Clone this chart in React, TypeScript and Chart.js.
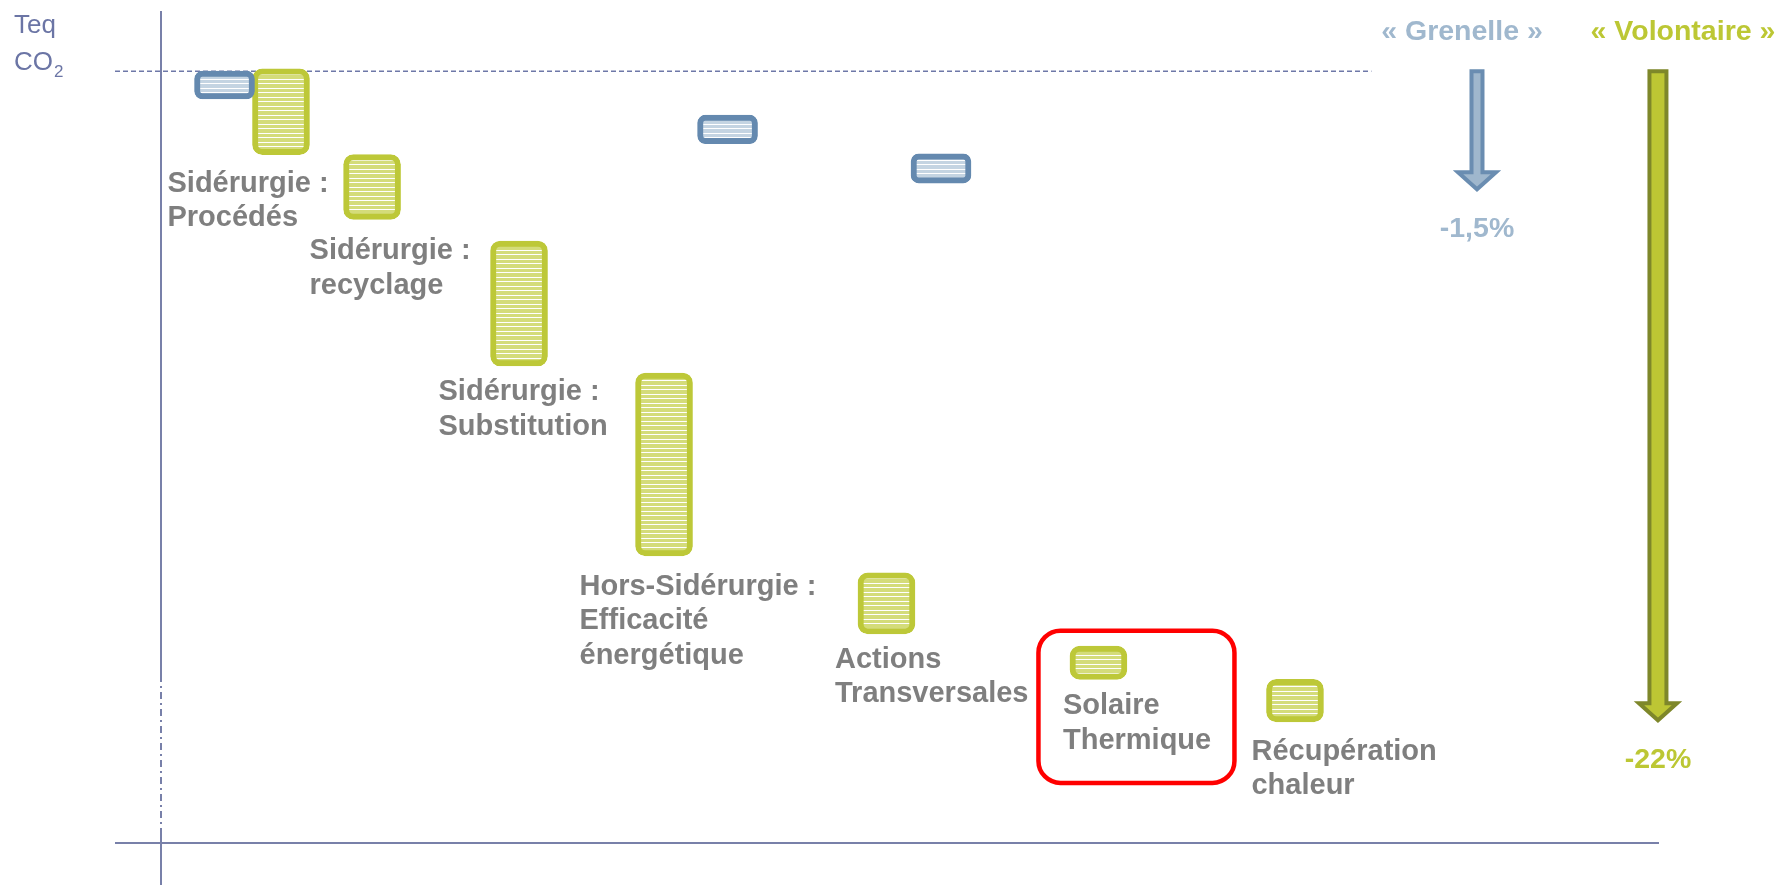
import { useEffect, useRef } from "react";
import { Chart, registerables } from "chart.js";

Chart.register(...registerables);

// ---------- data ----------
const actionLabels: string[][] = [
  ["Sidérurgie :", "Procédés"],
  ["Sidérurgie :", "recyclage"],
  ["Sidérurgie :", "Substitution"],
  ["Hors-Sidérurgie :", "Efficacité", "énergétique"],
  ["Actions", "Transversales"],
  ["Solaire", "Thermique"],
  ["Récupération", "chaleur"],
];
const volontaireX = [8.01, 14.09, 23.9, 33.58, 48.43, 62.58, 75.7];
const volontaireTop = [100.3, 89.2, 78.0, 60.9, 35.0, 25.5, 21.2];
const volontaireBottom = [89.2, 80.8, 61.8, 37.2, 27.1, 21.2, 15.7];

const grenelleX = [4.24, 37.82, 52.07];
const grenelleTop = [100, 94.3, 89.3];
const grenelleBottom = [96.4, 90.6, 85.5];

const baselineValue = 100;
const baselineEndX = 80.8;

const scenarioNames = ["« Grenelle »", "« Volontaire »"];
const scenarioPct = ["-1,5%", "-22%"];
const scenarioX = [87.85, 99.93];
const scenarioEnd = [84.7, 15.9];

const yTitle = ["Teq", "CO", "2"];
const highlightedIndex = 5; // "Solaire Thermique"

// ---------- layout / style (not data) ----------
const labelDx = [-85, -34, -52, -56, -23, -7, -15];
const labelDy = [37, 40, 34, 39, 34, 35, 38];
const FONT = '"Liberation Sans", Arial, Helvetica, sans-serif';
const AXIS_COLOR = "#7880a9";
const TITLE_COLOR = "#6b75a5";
const LABEL_COLOR = "#7f7f7f";
const GREEN_BORDER = "#bdc838";
const GREEN_FILL = "#d4dc7a";
const BLUE_BORDER = "#6489af";
const BLUE_FILL = "#c4d4e2";
const SCEN_TEXT = ["#a0b8ce", "#bcc734"];
const ARROW_STROKE = ["#6a8db1", "#7e872a"];
const ARROW_FILL = ["#9fb7cd", "#bdc634"];
const ARROW_SHAFT = [5.5, 8.5];
const HEADER_DX = [-15, 25];

function stripePattern(base: string): CanvasPattern | string {
  const c = document.createElement("canvas");
  c.width = 8;
  c.height = 9;
  const g = c.getContext("2d");
  if (!g) return base;
  g.fillStyle = base;
  g.fillRect(0, 0, 8, 9);
  g.fillStyle = "#ffffff";
  g.fillRect(0, 2, 8, 1);
  g.fillRect(0, 7, 8, 1);
  const p = g.createPattern(c, "repeat");
  return p || base;
}

function roundRectPath(ctx: CanvasRenderingContext2D, x: number, y: number, w: number, h: number, r: number) {
  ctx.beginPath();
  ctx.moveTo(x + r, y);
  ctx.lineTo(x + w - r, y);
  ctx.arcTo(x + w, y, x + w, y + r, r);
  ctx.lineTo(x + w, y + h - r);
  ctx.arcTo(x + w, y + h, x + w - r, y + h, r);
  ctx.lineTo(x + r, y + h);
  ctx.arcTo(x, y + h, x, y + h - r, r);
  ctx.lineTo(x, y + r);
  ctx.arcTo(x, y, x + r, y, r);
  ctx.closePath();
}

const overlayPlugin = {
  id: "overlay",
  beforeDatasetsDraw(chart: any) {
    const { ctx, chartArea } = chart;
    const xs = chart.scales.x;
    const ys = chart.scales.y;
    ctx.save();
    const ax = xs.getPixelForValue(0);
    const ay = ys.getPixelForValue(0);
    const by = ys.getPixelForValue(baselineValue);

    // dashed baseline
    ctx.strokeStyle = "#6e78a8";
    ctx.lineWidth = 1.5;
    ctx.setLineDash([5, 3]);
    ctx.beginPath();
    ctx.moveTo(ax - 46, by);
    ctx.lineTo(xs.getPixelForValue(baselineEndX), by);
    ctx.stroke();

    // x axis
    ctx.setLineDash([]);
    ctx.lineWidth = 2;
    ctx.strokeStyle = AXIS_COLOR;
    ctx.beginPath();
    ctx.moveTo(ax - 46, ay);
    ctx.lineTo(chartArea.right, ay);
    ctx.stroke();

    // y axis (solid, broken section, solid)
    const breakTop = ay - 168;
    const breakBottom = ay - 13;
    ctx.beginPath();
    ctx.moveTo(ax, chartArea.top);
    ctx.lineTo(ax, breakTop);
    ctx.moveTo(ax, breakBottom);
    ctx.lineTo(ax, chart.height);
    ctx.stroke();
    ctx.setLineDash([7, 4, 2, 4]);
    ctx.beginPath();
    ctx.moveTo(ax, breakTop);
    ctx.lineTo(ax, breakBottom);
    ctx.stroke();
    ctx.setLineDash([]);

    // y title
    ctx.fillStyle = TITLE_COLOR;
    ctx.textAlign = "left";
    ctx.textBaseline = "alphabetic";
    ctx.font = `26px ${FONT}`;
    ctx.fillText(yTitle[0], 14, 33);
    ctx.fillText(yTitle[1], 14, 70);
    const coW = ctx.measureText(yTitle[1]).width;
    ctx.font = `17px ${FONT}`;
    ctx.fillText(yTitle[2], 14 + coW + 1, 77);
    ctx.restore();
  },
  afterDatasetsDraw(chart: any) {
    const { ctx, chartArea } = chart;
    const xs = chart.scales.x;
    const ys = chart.scales.y;
    ctx.save();

    // labels below green bars
    const meta = chart.getDatasetMeta(1);
    ctx.font = `bold 29px ${FONT}`;
    ctx.fillStyle = LABEL_COLOR;
    ctx.textAlign = "left";
    ctx.textBaseline = "alphabetic";
    meta.data.forEach((el: any, i: number) => {
      const left = el.x - el.width / 2 + labelDx[i];
      const bottom = Math.max(el.y, el.base);
      actionLabels[i].forEach((line, k) => {
        ctx.fillText(line, left, bottom + labelDy[i] + k * 34.5);
      });
    });

    // highlight box
    const hl = meta.data[highlightedIndex];
    if (hl) {
      const l = hl.x - hl.width / 2 - 31.5;
      const r = hl.x + hl.width / 2 + 107.5;
      const t = Math.min(hl.y, hl.base) - 15.5;
      const b = Math.max(hl.y, hl.base) + 103.5;
      ctx.strokeStyle = "#ff0000";
      ctx.lineWidth = 4.5;
      roundRectPath(ctx, l, t, r - l, b - t, 22);
      ctx.stroke();
    }

    // scenario arrows + texts
    const top = ys.getPixelForValue(baselineValue);
    scenarioNames.forEach((name, i) => {
      const cx = xs.getPixelForValue(scenarioX[i]);
      const tip = ys.getPixelForValue(scenarioEnd[i]);
      const sw = ARROW_SHAFT[i];
      const hw = 19;
      const hlen = 17;
      ctx.beginPath();
      ctx.moveTo(cx - sw, top);
      ctx.lineTo(cx - sw, tip - hlen);
      ctx.lineTo(cx - hw, tip - hlen);
      ctx.lineTo(cx, tip);
      ctx.lineTo(cx + hw, tip - hlen);
      ctx.lineTo(cx + sw, tip - hlen);
      ctx.lineTo(cx + sw, top);
      ctx.closePath();
      ctx.fillStyle = ARROW_FILL[i];
      ctx.fill();
      ctx.lineWidth = 4;
      ctx.lineJoin = "miter";
      ctx.strokeStyle = ARROW_STROKE[i];
      ctx.stroke();

      ctx.fillStyle = SCEN_TEXT[i];
      ctx.font = `bold 28.5px ${FONT}`;
      ctx.textAlign = "center";
      ctx.fillText(name, cx + HEADER_DX[i], chartArea.top + 29);
      ctx.fillText(scenarioPct[i], cx, tip + 48);
    });
    ctx.restore();
  },
};

export default function App() {
  const ref = useRef<HTMLCanvasElement | null>(null);
  useEffect(() => {
    if (!ref.current) return;
    const greenPattern = stripePattern(GREEN_FILL);
    const bluePattern = stripePattern(BLUE_FILL);
    const chart = new Chart(ref.current, {
      type: "bar",
      data: {
        datasets: [
          {
            label: "Grenelle",
            data: grenelleX.map((x, i) => ({ x, y: [grenelleTop[i], grenelleBottom[i]] })) as any,
            backgroundColor: bluePattern as any,
            borderColor: BLUE_BORDER,
            borderWidth: 6,
            borderRadius: 8,
            borderSkipped: false,
            barThickness: 60,
            stack: "one",
          },
          {
            label: "Volontaire",
            data: volontaireX.map((x, i) => ({ x, y: [volontaireTop[i], volontaireBottom[i]] })) as any,
            backgroundColor: greenPattern as any,
            borderColor: GREEN_BORDER,
            borderWidth: 6,
            borderRadius: 10,
            borderSkipped: false,
            barThickness: 57,
            stack: "one",
          },
        ],
      },
      options: {
        responsive: false,
        animation: false,
        events: [],
        layout: { padding: { top: 11, bottom: 42, left: 161, right: 123 } },
        plugins: { legend: { display: false }, tooltip: { enabled: false }, title: { display: false } },
        scales: {
          x: { type: "linear", min: 0, max: 100, display: false, offset: false },
          y: { type: "linear", min: 0, max: 107.8, display: false, stacked: false },
        },
      },
      plugins: [overlayPlugin],
    });
    return () => chart.destroy();
  }, []);

  return (
    <div style={{ position: "fixed", left: 0, top: 0, width: 1782, height: 885, background: "#ffffff" }}>
      <canvas ref={ref} width={1782} height={885} style={{ width: 1782, height: 885, display: "block" }} />
    </div>
  );
}
